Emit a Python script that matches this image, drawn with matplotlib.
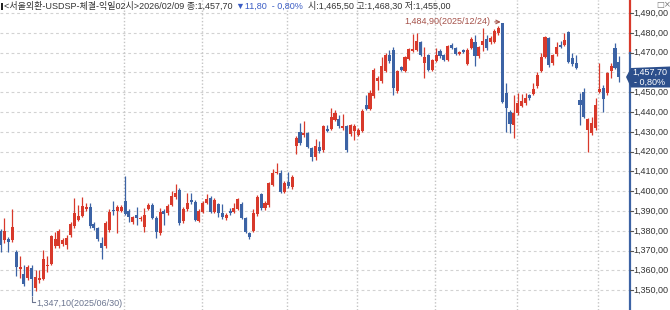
import matplotlib
matplotlib.use('Agg')
import matplotlib.pyplot as plt
import numpy as np
from matplotlib.patches import Polygon

# ---- data (USD/KRW daily candles, 2025/06/18 .. 2026/02/09) ----
opens = [1380.0,1375.4,1375.9,1375.4,1369.5,1360.9,1358.2,1356.2,1361.4,1351.1,
         1355.2,1355.7,1362.2,1363.2,1372.3,1372.3,1373.3,1372.8,1377.9,1382.4,
         1385.5,1387.6,1391.0,1392.2,1383.5,1381.4,1374.0,1372.3,1380.4,1390.5,
         1390.2,1390.2,1395.2,1390.2,1384.3,1388.0,1386.0,1382.1,1391.2,1393.0,
         1386.6,1378.7,1390.2,1388.8,1393.0,1396.9,1400.6,1385.0,1391.0,1395.6,
         1394.7,1385.1,1389.7,1393.9,1396.4,1389.7,1393.4,1389.1,1386.3,1390.2,
         1389.7,1391.2,1393.4,1386.3,1378.7,1380.0,1388.3,1398.6,1391.4,1393.0,
         1403.1,1409.0,1409.0,1399.8,1404.8,1402.0,1422.8,1429.9,1428.4,1429.2,
         1421.7,1417.1,1422.2,1420.9,1431.4,1431.6,1436.1,1436.5,1431.9,1432.8,
         1428.9,1430.6,1428.5,1430.6,1443.4,1441.7,1447.9,1455.8,1455.5,1460.6,
         1468.6,1471.5,1450.5,1462.6,1460.9,1466.9,1471.0,1471.5,1475.4,1464.7,
         1468.6,1461.4,1465.9,1471.0,1468.6,1466.4,1473.7,1472.3,1469.3,1471.3,
         1464.3,1472.3,1475.4,1468.1,1473.9,1476.9,1475.2,1475.5,1479.7,1484.9,
         1449.5,1439.9,1433.4,1439.4,1443.2,1444.4,1448.6,1449.1,1453.3,1460.7,
         1467.9,1477.2,1464.6,1469.2,1473.8,1473.8,1480.6,1467.1,1464.9,1446.0,
         1449.9,1430.9,1429.2,1431.8,1450.3,1452.0,1449.5,1460.7,1472.5,1465.5]
highs = [1381.0,1386.6,1376.9,1391.0,1370.5,1367.3,1362.7,1362.7,1362.5,1360.2,
         1360.2,1370.3,1367.3,1378.0,1379.6,1380.9,1376.5,1377.9,1384.5,1396.6,
         1393.0,1397.1,1394.0,1394.0,1384.5,1382.0,1377.0,1385.0,1390.9,1395.0,
         1393.0,1393.0,1407.7,1391.0,1387.5,1392.2,1387.5,1391.7,1394.0,1394.0,
         1387.5,1391.5,1391.0,1393.3,1400.3,1403.6,1401.6,1392.0,1399.2,1399.1,
         1395.5,1391.0,1395.0,1398.6,1397.5,1396.5,1394.0,1393.5,1389.0,1391.5,
         1394.2,1396.8,1394.5,1387.0,1379.3,1390.9,1398.0,1399.2,1395.0,1404.8,
         1411.1,1414.4,1410.5,1405.0,1409.9,1408.0,1428.0,1434.3,1435.6,1430.0,
         1422.5,1426.2,1425.2,1433.5,1433.3,1442.0,1441.0,1438.6,1439.0,1433.5,
         1434.0,1434.0,1432.0,1441.5,1448.7,1451.3,1462.0,1458.0,1467.6,1469.6,
         1471.5,1472.8,1461.3,1463.3,1468.3,1472.6,1479.4,1479.9,1476.0,1472.8,
         1469.3,1467.0,1472.3,1472.0,1469.3,1474.0,1474.9,1473.0,1471.0,1472.0,
         1472.2,1477.7,1478.9,1473.5,1482.4,1478.9,1478.5,1482.0,1483.5,1484.9,
         1454.5,1440.8,1448.6,1449.5,1449.0,1449.5,1449.3,1454.5,1460.4,1469.6,
         1478.5,1478.0,1469.5,1475.5,1475.9,1479.7,1480.9,1469.6,1468.8,1449.5,
         1452.3,1437.2,1437.6,1446.9,1464.6,1453.6,1460.2,1464.6,1474.7,1468.3]
lows = [1369.5,1373.8,1369.5,1374.5,1357.2,1356.2,1352.1,1355.0,1347.1,1349.6,
        1353.6,1355.0,1359.3,1362.5,1371.5,1371.5,1372.5,1370.8,1377.0,1381.5,
        1384.8,1387.0,1390.0,1381.5,1380.5,1375.0,1365.8,1371.5,1379.5,1388.0,
        1378.9,1389.5,1387.8,1384.6,1383.5,1383.0,1385.0,1379.6,1390.5,1385.8,
        1376.4,1378.0,1383.0,1388.0,1392.3,1396.0,1383.0,1384.0,1390.2,1393.5,
        1385.0,1384.5,1389.0,1393.3,1389.0,1389.0,1387.0,1386.0,1385.5,1388.0,
        1389.0,1390.5,1386.0,1378.7,1375.8,1379.3,1387.5,1390.5,1390.5,1392.0,
        1402.5,1408.5,1399.0,1399.0,1401.5,1401.3,1418.6,1423.5,1427.5,1421.8,
        1415.4,1416.0,1419.5,1420.0,1429.8,1431.0,1435.3,1432.0,1431.0,1419.8,
        1427.8,1426.0,1427.8,1430.0,1441.0,1441.0,1447.0,1451.3,1454.8,1460.0,
        1465.0,1448.7,1449.8,1460.6,1460.2,1466.2,1470.5,1470.8,1468.3,1457.2,
        1460.6,1460.8,1465.2,1467.5,1465.7,1465.8,1471.7,1468.6,1468.8,1469.6,
        1463.6,1471.6,1463.1,1467.4,1470.8,1471.3,1474.5,1474.8,1479.0,1444.5,
        1429.8,1429.2,1427.0,1438.7,1442.5,1443.8,1446.1,1448.5,1452.3,1460.0,
        1467.2,1462.9,1464.0,1468.5,1472.2,1473.2,1464.7,1463.5,1461.5,1433.4,
        1436.9,1420.0,1428.5,1431.0,1449.6,1439.9,1448.8,1457.0,1461.7,1455.0]
closes = [1372.7,1380.0,1374.4,1382.1,1361.9,1361.6,1353.1,1361.7,1355.7,1356.7,
          1356.2,1365.8,1362.9,1377.4,1375.9,1380.0,1375.4,1376.4,1383.5,1389.0,
          1387.5,1392.5,1392.2,1382.4,1381.4,1375.9,1371.5,1384.1,1389.7,1389.9,
          1392.2,1392.2,1388.5,1386.8,1386.8,1386.5,1386.5,1388.0,1393.0,1386.6,
          1379.3,1389.7,1388.5,1392.5,1397.6,1398.9,1383.8,1390.9,1393.9,1394.4,
          1385.5,1390.2,1394.2,1395.9,1389.7,1395.6,1389.1,1386.8,1388.1,1388.8,
          1391.4,1395.9,1386.6,1379.6,1376.7,1389.1,1397.2,1391.4,1394.2,1404.0,
          1409.3,1409.9,1399.8,1404.3,1402.6,1407.0,1427.0,1424.5,1429.2,1422.5,
          1417.4,1422.6,1420.5,1432.8,1430.6,1437.5,1439.5,1432.8,1433.1,1421.0,
          1433.3,1432.8,1431.1,1440.7,1441.7,1449.6,1461.4,1457.2,1463.1,1468.9,
          1465.6,1452.1,1460.6,1461.4,1467.6,1472.0,1472.0,1476.0,1469.0,1467.6,
          1461.4,1466.4,1468.6,1468.1,1466.4,1473.2,1472.3,1469.3,1470.3,1470.2,
          1471.5,1477.0,1468.1,1472.7,1475.9,1472.5,1477.5,1480.9,1482.3,1445.2,
          1441.9,1433.8,1439.4,1444.4,1445.6,1446.9,1447.2,1451.6,1458.7,1467.9,
          1478.0,1463.7,1468.8,1473.0,1472.8,1476.4,1465.4,1464.1,1462.1,1443.5,
          1437.6,1436.5,1434.3,1443.5,1451.6,1446.6,1459.5,1463.4,1462.4,1457.7]

price_ticks = [1350, 1360, 1370, 1380, 1390, 1400, 1410, 1420, 1430, 1440,
               1450, 1460, 1470, 1480, 1490]
month_start_idx = [32, 52, 74, 92, 112, 133, 154]   # first session of Aug..Feb
low_idx, low_label = 8, "1,347,10(2025/06/30)"
high_idx, high_label = 129, "1,484,90(2025/12/24)"
header_parts = [("<서울외환-USDSP-체결-익일02시>2026/02/09 종:1,457,70", '#333333'),
                ("▼11,80  - 0,80%", '#3a5cc4'),
                ("시:1,465,50 고:1,468,30 저:1,455,00", '#333333')]
header_gaps = [4, 3, 6]
last_label = ["1,457,70", "- 0,80%"]
last_price = 1457.7

# ---- style ----
RED = '#d8392b'
BLUE = '#3c63a5'
W, H = 670, 310
Y0, Y1 = 1340.0, 1496.6
NUM_FONT = ['Liberation Sans', 'DejaVu Sans']
KR_FONT = ['Liberation Sans', 'Noto Sans CJK KR', 'DejaVu Sans']

fig = plt.figure(figsize=(W / 100, H / 100), dpi=100)
fig.patch.set_facecolor('white')
ax = fig.add_axes([0, 0, 629 / W, 1])
ax.set_facecolor('white')

n = len(opens)
x = np.arange(n)
o = np.array(opens); c = np.array(closes)
hi = np.array(highs); lo = np.array(lows)
cols = [RED if cc >= oo else BLUE for oo, cc in zip(o, c)]

# gridlines
for v in price_ticks:
    ax.axhline(v, color='#d2d2d2', lw=0.8, ls=(0, (2.5, 2.5)), zorder=0)
for m in month_start_idx:
    ax.axvline(m - 0.25, color='#c4c4c4', lw=1.0, ls=(0, (1, 1.5)), zorder=0)

# candles
ax.vlines(x, lo, hi, colors=cols, lw=0.9, zorder=2)
body = np.maximum(np.abs(c - o), 0.5)
ax.bar(x, body, bottom=np.minimum(o, c), width=0.78, color=cols, linewidth=0, zorder=3)

ax.set_xlim(-0.15, 161.6)
ax.set_ylim(Y0, Y1)
for s in ax.spines.values():
    s.set_visible(False)
ax.set_xticks([])
ax.set_yticks([])

def px(xp, yp):
    return (xp / W, 1 - yp / H)

def yv(v):
    return (v - Y0) / (Y1 - Y0)

# right axis line (red upper part, blue lower part)
split = 1470.0
fig.add_artist(plt.Line2D([629.5 / W, 629.5 / W], [yv(split), 1], color=RED, lw=1.6))
fig.add_artist(plt.Line2D([629.5 / W, 629.5 / W], [0, yv(split)], color=BLUE, lw=1.6))

# right tick labels
for v in price_ticks:
    yf = yv(v)
    fig.add_artist(plt.Line2D([630 / W, 633 / W], [yf, yf], color='#555555', lw=0.8))
    fig.text(633.5 / W, yf, f"{v:,},00", fontsize=6.5, family=NUM_FONT,
             color='#333333', va='center', ha='left')

# last price box
yl = yv(last_price) * H
poly = Polygon([(626 / W, yl / H), (631 / W, (yl + 9) / H), (670 / W, (yl + 10.5) / H),
                (670 / W, (yl - 10.5) / H), (631 / W, (yl - 10.5) / H)],
               closed=True, transform=fig.transFigure, facecolor='#2c4f8c',
               edgecolor='none', zorder=5)
fig.add_artist(poly)
fig.text(650 / W, (yl + 5) / H, last_label[0], fontsize=6.5, family=NUM_FONT,
         color='white', ha='center', va='center', zorder=6)
fig.text(650 / W, (yl - 5) / H, last_label[1], fontsize=6.5, family=NUM_FONT,
         color='white', ha='center', va='center', zorder=6)

# top-right window icons
fig.text(*px(656, 5), "□×", fontsize=6.0, family=['DejaVu Sans'], color='#777777',
         ha='left', va='center')

# header: small black marker bar, then text laid out left to right
fig.add_artist(plt.Rectangle((1 / W, 1 - 10 / H), 2.2 / W, 7 / H,
                             transform=fig.transFigure, facecolor='#222222',
                             edgecolor='none'))
renderer = fig.canvas.get_renderer()
cur = 0.0
for (txt, col), gap in zip(header_parts, header_gaps):
    cur += gap
    t = fig.text(*px(cur, 6), txt, fontsize=6.5, family=KR_FONT, color=col,
                 ha='left', va='center')
    cur = t.get_window_extent(renderer).x1

# high annotation
ax.annotate(high_label, xy=(high_idx - 0.4, highs[high_idx] + 0.6),
            xytext=(high_idx - 3.0, highs[high_idx] + 0.9),
            fontsize=6.5, family=NUM_FONT, color='#a5524a', ha='right', va='center',
            arrowprops=dict(arrowstyle='->', color='#a5524a', lw=0.8,
                            shrinkA=1, shrinkB=0))

# low annotation (L shaped marker)
ylow = lows[low_idx]
ax.plot([low_idx, low_idx, low_idx + 0.9], [ylow - 0.3, ylow - 3.3, ylow - 3.3],
        color='#6b7590', lw=0.8, zorder=4)
ax.text(low_idx + 1.1, ylow - 3.6, low_label, fontsize=6.5, family=NUM_FONT,
        color='#6b7590', ha='left', va='center')

fig.savefig('out.png', dpi=100, facecolor='white')
